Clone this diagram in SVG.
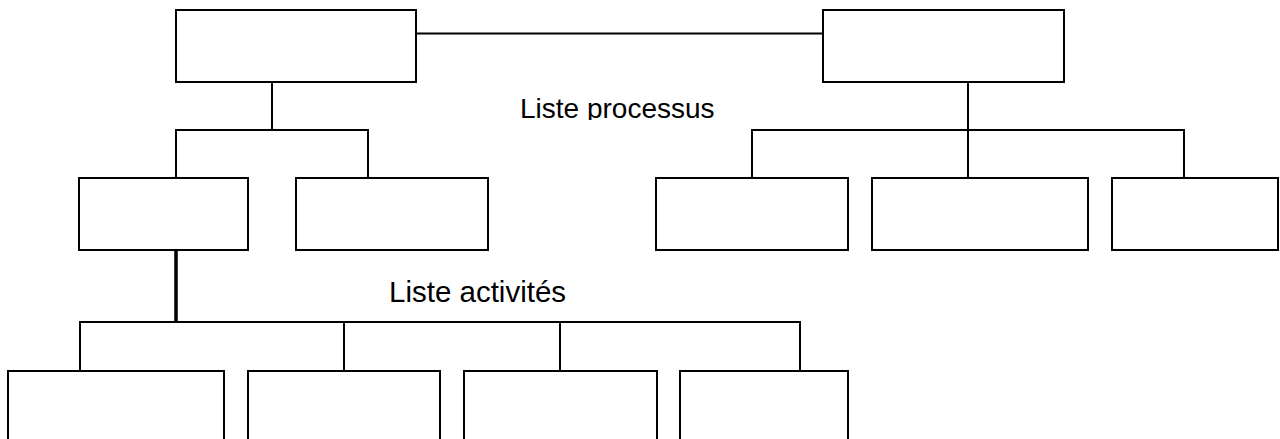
<svg xmlns="http://www.w3.org/2000/svg" width="1280" height="439" viewBox="0 0 1280 439">
<style>
.box{fill:#fff;stroke:#000;stroke-width:2}
.ln{stroke:#000;stroke-width:2;fill:none}
.thick{stroke:#000;stroke-width:3.5;fill:none}
.lbl{font-family:"Liberation Sans",Arial,sans-serif;font-size:28px;fill:#000}
</style>
<defs>
<clipPath id="clipTop"><rect x="0" y="0" width="1280" height="120"/></clipPath>
</defs>
<rect width="1280" height="439" fill="#fff"/>
<g id="connectors">
<line class="ln" x1="416" y1="33.5" x2="823" y2="33.5"/>
<line class="ln" x1="272" y1="82" x2="272" y2="130"/>
<polyline class="ln" points="176,178 176,130 368,130 368,178"/>
<line class="ln" x1="968" y1="82" x2="968" y2="178"/>
<polyline class="ln" points="752,178 752,130 1184,130 1184,178"/>
<line class="thick" x1="176" y1="250" x2="176" y2="322"/>
<polyline class="ln" points="80,371 80,322 800,322 800,371"/>
<line class="ln" x1="344" y1="322" x2="344" y2="371"/>
<line class="ln" x1="560" y1="322" x2="560" y2="371"/>
</g>
<g id="n_top_left"><rect class="box" x="176" y="10" width="240" height="72"/></g>
<g id="n_top_right"><rect class="box" x="823" y="10" width="241" height="72"/></g>
<g id="n_l2_a"><rect class="box" x="79" y="178" width="169" height="72"/></g>
<g id="n_l2_b"><rect class="box" x="296" y="178" width="192" height="72"/></g>
<g id="n_r2_a"><rect class="box" x="656" y="178" width="192" height="72"/></g>
<g id="n_r2_b"><rect class="box" x="872" y="178" width="216" height="72"/></g>
<g id="n_r2_c"><rect class="box" x="1112" y="178" width="166" height="72"/></g>
<g id="n_b_a"><rect class="box" x="8" y="371" width="216" height="100"/></g>
<g id="n_b_b"><rect class="box" x="248" y="371" width="192" height="100"/></g>
<g id="n_b_c"><rect class="box" x="464" y="371" width="193" height="100"/></g>
<g id="n_b_d"><rect class="box" x="680" y="371" width="168" height="100"/></g>
<g id="labels">
<text class="lbl" x="520" y="118" clip-path="url(#clipTop)">Liste processus</text>
<text class="lbl" x="389" y="302" style="font-size:29.5px">Liste activités</text>
</g>
</svg>
